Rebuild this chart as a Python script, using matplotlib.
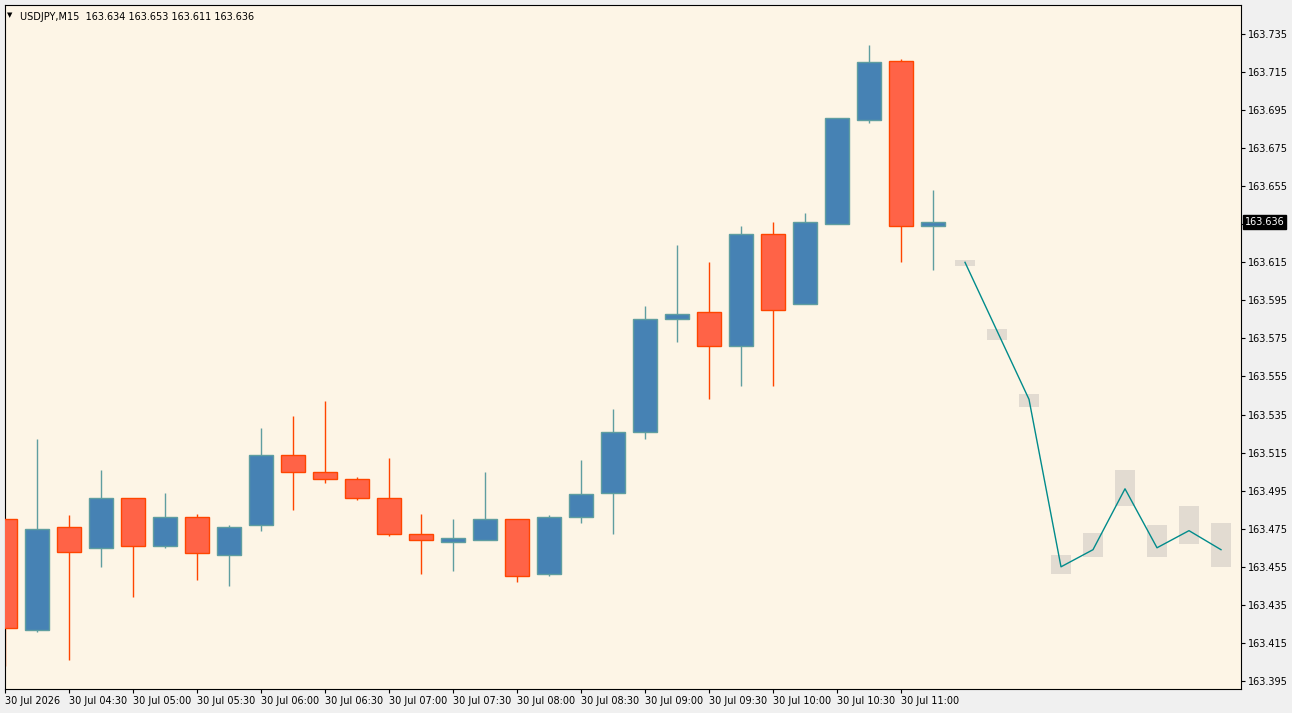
import numpy as np
import matplotlib.pyplot as plt
from matplotlib.patches import Rectangle

# USDJPY M15 candles, 30 Jul 04:00 .. 11:15
opens = [163.480, 163.422, 163.476, 163.465, 163.491, 163.466, 163.481, 163.461, 163.477, 163.514,
         163.505, 163.501, 163.491, 163.472, 163.468, 163.469, 163.480, 163.451, 163.481, 163.494,
         163.526, 163.585, 163.589, 163.571, 163.630, 163.593, 163.635, 163.690, 163.721, 163.634]
highs = [163.480, 163.522, 163.482, 163.506, 163.491, 163.494, 163.483, 163.477, 163.528, 163.534,
         163.542, 163.502, 163.512, 163.483, 163.480, 163.505, 163.480, 163.482, 163.511, 163.538,
         163.592, 163.624, 163.615, 163.634, 163.636, 163.641, 163.691, 163.729, 163.722, 163.653]
lows = [163.403, 163.421, 163.406, 163.455, 163.439, 163.465, 163.448, 163.445, 163.474, 163.485,
        163.499, 163.490, 163.471, 163.451, 163.453, 163.469, 163.447, 163.450, 163.478, 163.472,
        163.522, 163.573, 163.543, 163.550, 163.550, 163.593, 163.635, 163.688, 163.615, 163.611]
closes = [163.423, 163.475, 163.463, 163.491, 163.466, 163.481, 163.462, 163.476, 163.514, 163.505,
          163.501, 163.491, 163.472, 163.469, 163.470, 163.480, 163.450, 163.481, 163.493, 163.526,
          163.585, 163.588, 163.571, 163.630, 163.590, 163.636, 163.691, 163.720, 163.634, 163.636]

# forecast boxes (top, bottom) and forecast line
fc_top = [163.616, 163.580, 163.546, 163.461, 163.473, 163.506, 163.477, 163.487, 163.478]
fc_bot = [163.613, 163.574, 163.539, 163.451, 163.460, 163.487, 163.460, 163.467, 163.455]
fc_line = [163.615, 163.579, 163.543, 163.455, 163.464, 163.496, 163.465, 163.474, 163.464]

x_labels = ["30 Jul 2026", "30 Jul 04:30", "30 Jul 05:00", "30 Jul 05:30", "30 Jul 06:00",
            "30 Jul 06:30", "30 Jul 07:00", "30 Jul 07:30", "30 Jul 08:00", "30 Jul 08:30",
            "30 Jul 09:00", "30 Jul 09:30", "30 Jul 10:00", "30 Jul 10:30", "30 Jul 11:00"]

last_price = 163.636

BG = "#fdf5e6"
fig = plt.figure(figsize=(12.92, 7.13), dpi=100)
fig.patch.set_facecolor("#f0f0f0")
ax = fig.add_axes([5 / 1292, 24 / 713, 1236 / 1292, 684 / 713])
ax.set_facecolor(BG)

w = 0.75
for i, (o, h, l, c) in enumerate(zip(opens, highs, lows, closes)):
    up = c >= o
    body = "#4682b4" if up else "#ff6347"
    edge = "#5f9ea0" if up else "#ff4500"
    ax.vlines(i, l, h, color=edge, lw=1, zorder=2)
    lo, hi = min(o, c), max(o, c)
    ax.add_patch(Rectangle((i - w / 2, lo), w, max(hi - lo, 0.0006), facecolor=body,
                           edgecolor=edge, lw=1, zorder=3))

n = len(opens)
fx = np.arange(n, n + len(fc_line))
for x, t, b in zip(fx, fc_top, fc_bot):
    ax.add_patch(Rectangle((x - 0.3, b), 0.6, t - b, facecolor="#e2dbd1", edgecolor="none", zorder=2))
ax.plot(fx, fc_line, color="#008b8b", lw=1, zorder=3)

ax.set_xlim(0, 38.625)
ax.set_ylim(163.3908, 163.7502)

ax.set_xticks(np.arange(0, 2 * len(x_labels), 2))
ax.set_xticklabels(x_labels, fontsize=7, ha="left")
yt = np.round(np.arange(163.395, 163.736, 0.02), 3)
ax.set_yticks(yt)
# the last-price box hides the nearby tick label
ax.set_yticklabels(["" if abs(v - last_price) < 0.006 else f"{v:.3f}" for v in yt], fontsize=7)
ax.yaxis.tick_right()
ax.tick_params(axis="both", length=3, color="black", pad=2)
for s in ax.spines.values():
    s.set_color("black")

ax.text(0.002, 0.99, "\u25BC", transform=ax.transAxes, fontsize=5, va="top")
ax.text(0.012, 0.99, "USDJPY,M15  163.634 163.653 163.611 163.636", transform=ax.transAxes,
        fontsize=7, va="top")

ax.text(1.003, last_price, f"{last_price:.3f}", transform=ax.get_yaxis_transform(), fontsize=7,
        color="white", va="center", ha="left",
        bbox=dict(facecolor="black", edgecolor="black", pad=1.5))

fig.savefig("out.png", dpi=100, facecolor=fig.get_facecolor())
